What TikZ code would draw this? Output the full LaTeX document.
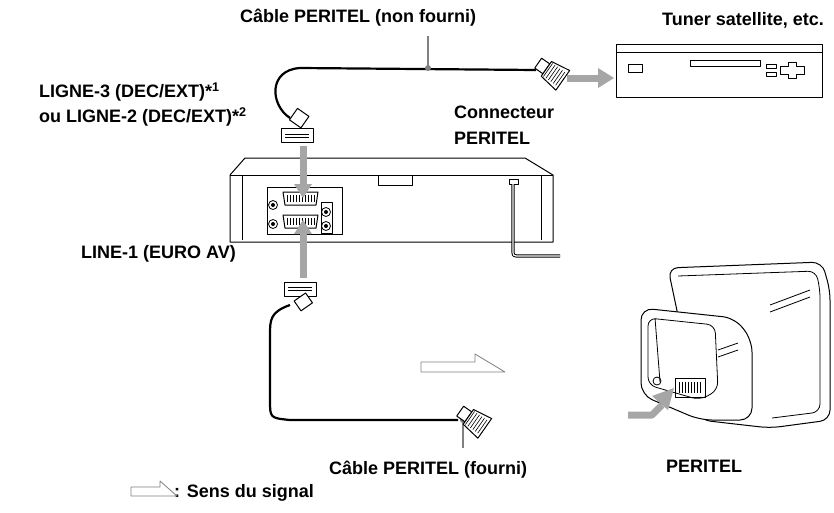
\documentclass[tikz,border=0pt]{standalone}
\usepackage{fontspec}
\setmainfont{Liberation Sans}
\begin{document}
\begin{tikzpicture}[x=1pt,y=-1pt,line join=round,
 lbl/.style={font=\bfseries\fontsize{18}{20}\selectfont,inner sep=1pt},
 cable/.style={line width=2.2pt},
 garrow/.style={line width=7pt,draw=gray!70},
 part/.style={line width=1pt,fill=white}]
\useasboundingbox (0,0) rectangle (834,512);
% texts
\node[lbl] (t1) at (358,18) {Câble PERITEL (non fourni)};
\node[lbl] (t2) at (743,20) {Tuner satellite, etc.};
\node[lbl,anchor=west] (t3) at (38,92) {LIGNE-3 (DEC/EXT)*\textsuperscript{1}};
\node[lbl,anchor=west] (t4) at (38,117) {ou LIGNE-2 (DEC/EXT)*\textsuperscript{2}};
\node[lbl,anchor=west] (t5) at (453,112) {Connecteur};
\node[lbl,anchor=west] (t6) at (453,138) {PERITEL};
\node[lbl,anchor=west] (t7) at (80,254) {LINE-1 (EURO AV)};
\node[lbl] (t8) at (428,470) {Câble PERITEL (fourni)};
\node[lbl] (t9) at (704,466) {PERITEL};
\node[lbl,anchor=west] (t10) at (173,493) {: Sens du signal};
% top cable
\coordinate (p1) at (290,118);
\coordinate (p2) at (536,70);
\draw[cable] (p1) .. controls (270,105) and (268,70) .. (300,68) -- (p2);
\draw[line width=1.5pt,gray] (428,68) -- (428,36);
\fill[gray] (428,68) circle (3);
% top right plug
\begin{scope}[shift={(548,70)},rotate=-35]
\draw[part] (-12,-6) rectangle (-2,6);
\draw[part] (-2,-9) -- (18,-12) -- (18,12) -- (-2,9) -- cycle;
\foreach \i in {0,3,...,15} \draw[line width=.6pt] (\i,-8) -- (\i,8);
\end{scope}
% arrow to tuner
\draw[garrow] (567,78) -- (600,78);
\fill[gray!70] (598,68) -- (614,78) -- (598,88) -- cycle;
% tuner
\draw[part] (616,44) rectangle (822,97) (616,52) -- (822,52);
\draw[line width=.8pt] (628,64) rectangle (642,72) (690,60) rectangle (760,66) (766,64) rectangle (776,68) (766,72) rectangle (776,76);
\draw[line width=.8pt] (788,62) -- (796,62) -- (796,66) -- (804,66) -- (804,74) -- (796,74) -- (796,78) -- (788,78) -- (788,74) -- (780,74) -- (780,66) -- (788,66) -- cycle;
% top VCR plug
\begin{scope}[shift={(297,130)}]
\draw[part] (-16,-2) rectangle (16,12);
\draw[line width=.6pt] (-12,4) -- (12,4) (-12,7) -- (12,7);
\draw[part,rotate=-35] (-12,-18) rectangle (2,-4);
\end{scope}
% VCR
\draw[part] (230,175) -- (245,158) -- (525,158) -- (553,175) -- (553,242) -- (230,242) -- cycle;
\draw[line width=.8pt] (230,175) -- (553,175) (242,175) -- (242,240) (541,175) -- (541,240);
\draw[line width=.8pt] (378,175) -- (378,185) -- (412,185) -- (412,175);
\draw[line width=.8pt] (267,187) rectangle (342,234);
\foreach \y in {192,215} {
 \draw[line width=1pt,fill=white] (283,\y) -- (318,\y) -- (316,\y+13) -- (285,\y+13) -- cycle;
 \foreach \i in {287,290,...,314} \draw[line width=.5pt] (\i,\y+3) -- (\i,\y+10);}
\foreach \x/\y in {273/205,273/224,326/212,326/226} {\draw[line width=.8pt] (\x,\y) circle (4.5); \fill (\x,\y) circle (2);}
\draw[line width=.8pt] (321,202) rectangle (332,233);
\draw[line width=.8pt] (509,179) rectangle (518,184);
\draw[line width=1pt,double,double distance=1.2pt] (513,184) -- (513,250) .. controls (513,256) .. (520,256) -- (560,256);
% arrows into VCR
\draw[garrow] (303,146) -- (303,186);
\fill[gray!70] (294,184) -- (303,198) -- (312,184) -- cycle;
\draw[garrow] (303,278) -- (303,232);
\fill[gray!70] (294,234) -- (303,220) -- (312,234) -- cycle;
% bottom plug
\begin{scope}[shift={(300,292)}]
\draw[part] (-16,-10) rectangle (16,4);
\draw[line width=.6pt] (-12,-5) -- (12,-5) (-12,-2) -- (12,-2);
\draw[part,rotate=35] (-10,4) rectangle (4,16);
\end{scope}
% bottom cable
\coordinate (p3) at (290,305);
\coordinate (p4) at (458,420);
\draw[cable] (p3) .. controls (270,312) and (270,320) .. (270,335) -- (270,400) .. controls (270,418) .. (290,420) -- (p4);
\draw[line width=1.5pt,gray] (463,420) -- (463,448);
\fill[gray] (463,420) circle (3);
\begin{scope}[shift={(470,418)},rotate=-35]
\draw[part] (-12,-6) rectangle (-2,6);
\draw[part] (-2,-9) -- (18,-12) -- (18,12) -- (-2,9) -- cycle;
\foreach \i in {0,3,...,15} \draw[line width=.6pt] (\i,-8) -- (\i,8);
\end{scope}
% signal arrow
\draw[line width=.8pt,gray] (421,362) -- (475,362) -- (475,354) -- (505,372) -- (421,372) -- cycle;
\draw[line width=.8pt,gray] (131,487) -- (160,487) -- (160,481) -- (177,496) -- (131,496) -- cycle;
% TV
\draw[part,rounded corners=10] (668,268) -- (822,262) -- (830,290) -- (830,420) -- (770,428) -- (700,420) -- cycle;
\draw[line width=.8pt,rounded corners=8] (678,276) -- (816,271) -- (820,290) -- (820,412) -- (772,418);
\draw[part,rounded corners=12] (641,308) -- (735,318) -- (752,340) -- (752,420) -- (700,420) -- (641,395) -- cycle;
\draw[line width=.8pt,rounded corners=8] (648,318) -- (715,325) -- (718,390) -- (700,400) -- (648,385) -- cycle;
\draw[line width=.8pt] (655,318) -- (660,382);
\draw[line width=.8pt] (657,381) circle (4);
\draw[line width=1pt] (675,378) rectangle (705,397);
\foreach \i in {679,682,...,701} \draw[line width=.5pt] (\i,382) -- (\i,393);
\draw[line width=.8pt] (718,350) -- (738,343) (718,357) -- (738,350) (770,305) -- (810,290) (770,312) -- (810,297);
% arrow to TV
\draw[garrow] (628,415) -- (652,415) -- (662,405);
\fill[gray!70] (652,396) -- (674,388) -- (668,410) -- cycle;
\end{tikzpicture}
\end{document}
